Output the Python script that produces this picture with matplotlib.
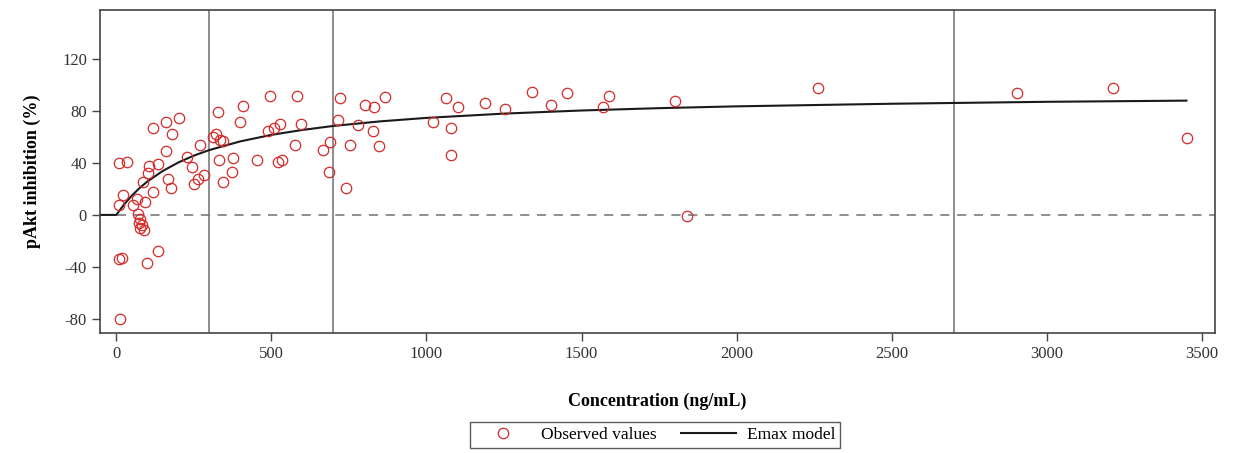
import matplotlib
matplotlib.use("Agg")
import matplotlib.pyplot as plt

plt.rcParams["font.family"] = "Liberation Serif"
plt.rcParams["axes.unicode_minus"] = False

# Observed pAkt inhibition vs plasma concentration
obs_conc = [
    13, 8, 18, 10, 35, 22, 10, 55, 68, 93,
    70, 78, 72, 84, 76, 88, 100, 135,
    119, 161, 203, 181, 161, 135, 106, 103, 87, 119, 168, 177,
    229, 245, 250, 262, 271, 282,
    313, 320, 335, 345, 329, 400, 409, 496, 332, 377, 374, 345,
    454, 522, 535, 490, 510, 528, 583, 596, 577, 667, 690, 686,
    716, 722, 741, 754, 780, 802, 831, 828, 848, 867,
    1022, 1063, 1080, 1080, 1102, 1189, 1254, 1341, 1402, 1453,
    1570, 1590, 1801, 1840, 2262, 2903, 3213, 3451,
]
obs_inhib = [
    -80, -34, -33, 40, 41, 15, 8, 8, 12, 10,
    1, -3, -6, -8, -10, -12, -37, -28,
    67, 72, 75, 62, 49, 39, 38, 32, 25, 18, 28, 21,
    45, 37, 24, 28, 54, 31,
    60, 62, 58, 57, 79, 72, 84, 92, 42, 44, 33, 25,
    42, 41, 42, 65, 67, 70, 92, 70, 54, 50, 56, 33,
    73, 90, 21, 54, 69, 85, 83, 65, 53, 91,
    72, 90, 67, 46, 83, 86, 82, 95, 85, 94,
    83, 92, 88, -1, 98, 94, 98, 59,
]

# Fitted Emax model curve
model_conc = [-50, 0, 25, 50, 75, 100, 150, 200, 250, 300, 400, 500, 600,
              700, 850, 1000, 1250, 1500, 1750, 2000, 2500, 3000, 3450]
model_inhib = [0, 0, 8.0, 14.8, 20.7, 25.7, 33.9, 40.4, 45.7, 50.0, 56.7,
               61.7, 65.5, 68.6, 72.1, 74.8, 78.1, 80.5, 82.3, 83.7, 85.7,
               87.2, 88.1]

ref_conc = [300, 700, 2700]
x_ticks = [0, 500, 1000, 1500, 2000, 2500, 3000, 3500]
y_ticks = [-80, -40, 0, 40, 80, 120]

fig = plt.figure(figsize=(12.36, 4.53), dpi=100)
ax = fig.add_axes([0.081, 0.265, 0.902, 0.713])

for xc in ref_conc:
    ax.axvline(xc, color="#7a7a7a", lw=1.2, zorder=1)
ax.axhline(0, color="#707070", lw=1.1, ls=(0, (6, 5)), zorder=1)

ax.plot(obs_conc, obs_inhib, ls="none", marker="o", ms=7.5, mfc="none",
        mec="#d62a2a", mew=0.9, label="Observed values", zorder=3)
ax.plot(model_conc, model_inhib, color="#1a1a1a", lw=1.5,
        label="Emax model", zorder=2)

ax.set_xlim(-52, 3542)
ax.set_ylim(-91, 158)
ax.set_xticks(x_ticks)
ax.set_yticks(y_ticks)
ax.tick_params(direction="out", length=6, width=1, colors="#444444",
               labelsize=12, labelcolor="#333333")
for sp in ax.spines.values():
    sp.set_color("#444444")
    sp.set_linewidth(1.2)

ax.set_xlabel("Concentration (ng/mL)", fontsize=13, fontweight="bold",
              labelpad=22)
ax.set_ylabel("pAkt inhibition (%)", fontsize=13, fontweight="bold",
              labelpad=15)

leg = fig.legend(loc="center", bbox_to_anchor=(0.53, 0.040), ncol=2,
                 fontsize=12.5, frameon=True, fancybox=False,
                 edgecolor="#333333", handlelength=3.2, columnspacing=1.4,
                 borderpad=0.3, handletextpad=0.6)
leg.get_frame().set_linewidth(1.0)

fig.savefig("out.png", dpi=100)
